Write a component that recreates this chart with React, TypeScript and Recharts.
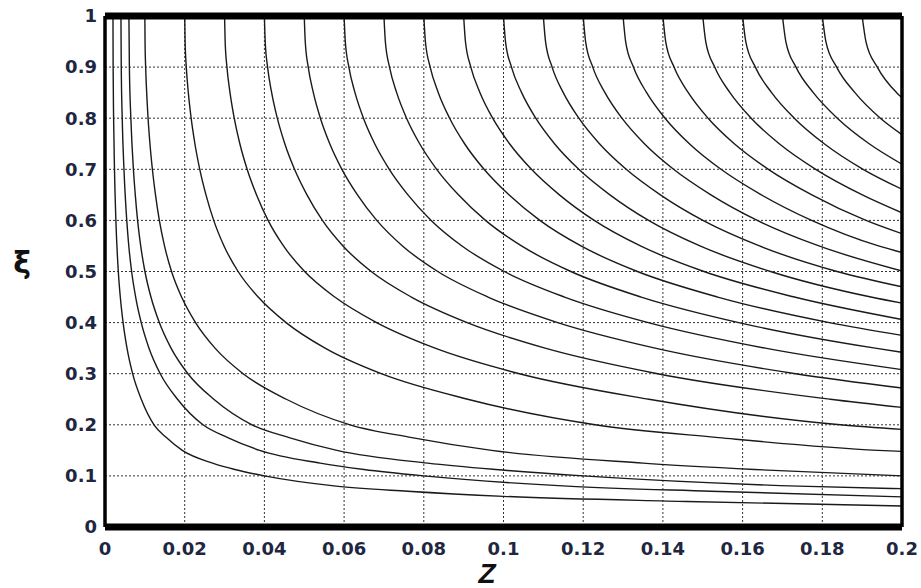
import React from 'react';
import { LineChart, Line, XAxis, YAxis, CartesianGrid, ReferenceLine } from 'recharts';

const xTicks = [0, 0.02, 0.04, 0.06, 0.08, 0.1, 0.12, 0.14, 0.16, 0.18, 0.2];
const yTicks = [0, 0.1, 0.2, 0.3, 0.4, 0.5, 0.6, 0.7, 0.8, 0.9, 1];

type Pt = [number, number];

const curve1: Pt[] = [[0.002,1],[0.00204,0.9],[0.00216,0.8],[0.00238,0.7],[0.00273,0.6],[0.00334,0.5],[0.00384,0.45],[0.00454,0.4],[0.00552,0.35],[0.00693,0.3],[0.0091,0.25],[0.0123,0.2],[0.0154,0.175],[0.0194,0.15],[0.027,0.125],[0.0326,0.1125],[0.04,0.1],[0.058,0.08],[0.076,0.07],[0.1,0.06],[0.146,0.05],[0.2,0.041]];
const curve2: Pt[] = [[0.004,1],[0.00408,0.9],[0.00432,0.8],[0.00476,0.7],[0.00546,0.6],[0.00597,0.55],[0.00668,0.5],[0.00769,0.45],[0.00909,0.4],[0.01104,0.35],[0.01386,0.3],[0.0182,0.25],[0.0246,0.2],[0.0308,0.175],[0.0388,0.15],[0.054,0.125],[0.065,0.1125],[0.08,0.1],[0.116,0.08],[0.152,0.07],[0.2,0.059]];
const curve3: Pt[] = [[0.006,1],[0.00612,0.9],[0.00649,0.8],[0.00713,0.7],[0.0076,0.65],[0.00818,0.6],[0.00896,0.55],[0.01002,0.5],[0.01153,0.45],[0.01363,0.4],[0.01657,0.35],[0.0208,0.3],[0.0273,0.25],[0.0369,0.2],[0.0462,0.175],[0.0582,0.15],[0.081,0.125],[0.098,0.1125],[0.12,0.1],[0.174,0.08],[0.2,0.075]];
const curve4: Pt[] = [[0.01,1],[0.01005,0.95],[0.0102,0.9],[0.01046,0.85],[0.01081,0.8],[0.01128,0.75],[0.01189,0.7],[0.01267,0.65],[0.01364,0.6],[0.01493,0.55],[0.0167,0.5],[0.01922,0.45],[0.02272,0.4],[0.02761,0.35],[0.03466,0.3],[0.0455,0.25],[0.0615,0.2],[0.077,0.175],[0.097,0.15],[0.135,0.125],[0.163,0.1125],[0.2,0.1]];
const curve5: Pt[] = [[0.02,1],[0.0201,0.95],[0.0204,0.9],[0.02091,0.85],[0.02162,0.8],[0.02256,0.75],[0.02378,0.7],[0.02534,0.65],[0.02728,0.6],[0.02986,0.55],[0.0334,0.5],[0.03844,0.45],[0.04544,0.4],[0.05522,0.35],[0.06932,0.3],[0.091,0.25],[0.123,0.2],[0.154,0.175],[0.194,0.15],[0.2,0.148]];
const curve6: Pt[] = [[0.03,1],[0.03015,0.95],[0.0306,0.9],[0.03137,0.85],[0.03243,0.8],[0.03384,0.75],[0.03567,0.7],[0.03801,0.65],[0.04092,0.6],[0.04479,0.55],[0.0501,0.5],[0.05766,0.45],[0.06816,0.4],[0.08283,0.35],[0.104,0.3],[0.1365,0.25],[0.1845,0.2],[0.2,0.191]];
const curve7: Pt[] = [[0.04,1],[0.0402,0.95],[0.0408,0.9],[0.04182,0.85],[0.04324,0.8],[0.04512,0.75],[0.04756,0.7],[0.05068,0.65],[0.05456,0.6],[0.05972,0.55],[0.0668,0.5],[0.07688,0.45],[0.09088,0.4],[0.11044,0.35],[0.13864,0.3],[0.182,0.25],[0.2,0.234]];
const curve8: Pt[] = [[0.05,1],[0.05025,0.95],[0.051,0.9],[0.05228,0.85],[0.05405,0.8],[0.0564,0.75],[0.05945,0.7],[0.06335,0.65],[0.0682,0.6],[0.07465,0.55],[0.0835,0.5],[0.0961,0.45],[0.1136,0.4],[0.13805,0.35],[0.1733,0.3],[0.2,0.272]];
const curve9: Pt[] = [[0.06,1],[0.0603,0.95],[0.0612,0.9],[0.06273,0.85],[0.06486,0.8],[0.06768,0.75],[0.07134,0.7],[0.07602,0.65],[0.08184,0.6],[0.08958,0.55],[0.1002,0.5],[0.11532,0.45],[0.13632,0.4],[0.16566,0.35],[0.2,0.308]];
const curve10: Pt[] = [[0.07,1],[0.07035,0.95],[0.0714,0.9],[0.07319,0.85],[0.07567,0.8],[0.07896,0.75],[0.08323,0.7],[0.08869,0.65],[0.09548,0.6],[0.10451,0.55],[0.1169,0.5],[0.13454,0.45],[0.15904,0.4],[0.19327,0.35],[0.2,0.342]];
const curve11: Pt[] = [[0.08,1],[0.0804,0.95],[0.0816,0.9],[0.08364,0.85],[0.08648,0.8],[0.09024,0.75],[0.09512,0.7],[0.10136,0.65],[0.10912,0.6],[0.11944,0.55],[0.1336,0.5],[0.15376,0.45],[0.18176,0.4],[0.2,0.375]];
const curve12: Pt[] = [[0.09,1],[0.09045,0.95],[0.0918,0.9],[0.0941,0.85],[0.09729,0.8],[0.10152,0.75],[0.10701,0.7],[0.11403,0.65],[0.12276,0.6],[0.13437,0.55],[0.1503,0.5],[0.17298,0.45],[0.2,0.406]];
const curve13: Pt[] = [[0.1,1],[0.1005,0.95],[0.102,0.9],[0.10455,0.85],[0.1081,0.8],[0.1128,0.75],[0.1189,0.7],[0.1267,0.65],[0.1364,0.6],[0.1493,0.55],[0.167,0.5],[0.1922,0.45],[0.2,0.438]];
const curve14: Pt[] = [[0.11,1],[0.11055,0.95],[0.1122,0.9],[0.115,0.85],[0.11891,0.8],[0.12408,0.75],[0.13079,0.7],[0.13937,0.65],[0.15004,0.6],[0.16423,0.55],[0.1837,0.5],[0.2,0.47]];
const curve15: Pt[] = [[0.12,1],[0.1206,0.95],[0.1224,0.9],[0.12546,0.85],[0.12972,0.8],[0.13536,0.75],[0.14268,0.7],[0.15204,0.65],[0.16368,0.6],[0.17916,0.55],[0.2,0.501]];
const curve16: Pt[] = [[0.13,1],[0.13065,0.95],[0.1326,0.9],[0.13592,0.85],[0.14053,0.8],[0.14664,0.75],[0.15457,0.7],[0.16471,0.65],[0.17732,0.6],[0.19409,0.55],[0.2,0.537]];
const curve17: Pt[] = [[0.14,1],[0.1407,0.95],[0.1428,0.9],[0.14637,0.85],[0.15134,0.8],[0.15792,0.75],[0.16646,0.7],[0.17738,0.65],[0.19096,0.6],[0.2,0.574]];
const curve18: Pt[] = [[0.15,1],[0.15075,0.95],[0.153,0.9],[0.15683,0.85],[0.16215,0.8],[0.1692,0.75],[0.17835,0.7],[0.19005,0.65],[0.2,0.615]];
const curve19: Pt[] = [[0.16,1],[0.1608,0.95],[0.1632,0.9],[0.16728,0.85],[0.17296,0.8],[0.18048,0.75],[0.19024,0.7],[0.2,0.661]];
const curve20: Pt[] = [[0.17,1],[0.17085,0.95],[0.1734,0.9],[0.17774,0.85],[0.18377,0.8],[0.19176,0.75],[0.2,0.71]];
const curve21: Pt[] = [[0.18,1],[0.1809,0.95],[0.1836,0.9],[0.18819,0.85],[0.19458,0.8],[0.2,0.768]];
const curve22: Pt[] = [[0.19,1],[0.19095,0.95],[0.1938,0.9],[0.19865,0.85],[0.2,0.84]];

const curves: Pt[][] = [
  curve1, curve2, curve3, curve4, curve5, curve6, curve7, curve8, curve9, curve10, curve11,
  curve12, curve13, curve14, curve15, curve16, curve17, curve18, curve19, curve20, curve21, curve22,
];

const tickStyle = { fontFamily: 'DejaVu Sans', fontSize: 18, fontWeight: 'bold', fill: '#1e2640' };
const fmt = (v: number) => String(Number(v.toFixed(2)));

export default function App() {
  return (
    <div style={{ position: 'absolute', left: 0, top: 0, width: 921, height: 588, background: '#fff' }}>
      <LineChart width={921} height={588} margin={{ top: 16, right: 19, bottom: 31, left: 0 }}>
        <CartesianGrid stroke="#333" strokeDasharray="2 2" strokeWidth={1} />
        <XAxis
          type="number"
          dataKey="x"
          domain={[0, 0.2]}
          ticks={xTicks}
          tickFormatter={fmt}
          axisLine={false}
          tickLine={false}
          tickSize={0}
          tickMargin={15}
          height={30}
          tick={tickStyle}
          allowDataOverflow
          interval={0}
        />
        <YAxis
          type="number"
          dataKey="y"
          domain={[0, 1]}
          ticks={yTicks}
          tickFormatter={fmt}
          axisLine={false}
          tickLine={false}
          tickSize={0}
          tickMargin={8}
          width={105}
          tick={tickStyle}
          allowDataOverflow
          interval={0}
        />
        {curves.map((c, i) => (
          <Line
            key={i}
            data={c.map(([x, y]) => ({ x, y }))}
            dataKey="y"
            type="monotone"
            stroke="#1a1a1a"
            strokeWidth={1.4}
            dot={false}
            activeDot={false}
            isAnimationActive={false}
          />
        ))}
        <ReferenceLine x={0} stroke="#000" strokeWidth={3.5} />
        <ReferenceLine x={0.2} stroke="#000" strokeWidth={3.5} />
        <ReferenceLine y={0} stroke="#000" strokeWidth={7} />
        <ReferenceLine y={1} stroke="#000" strokeWidth={7} />
      </LineChart>
      <svg width={921} height={588} style={{ position: 'absolute', left: 0, top: 0, pointerEvents: 'none' }}>
        <text x={22} y={262} textAnchor="middle" dominantBaseline="central"
          style={{ fontFamily: 'DejaVu Sans', fontSize: 30, fontWeight: 'bold', fill: '#111' }}>ξ</text>
        <text x={487} y={573} textAnchor="middle" dominantBaseline="central"
          style={{ fontFamily: 'Liberation Sans', fontSize: 28, fontWeight: 'bold', fontStyle: 'italic', fill: '#111' }}>Z</text>
      </svg>
    </div>
  );
}
